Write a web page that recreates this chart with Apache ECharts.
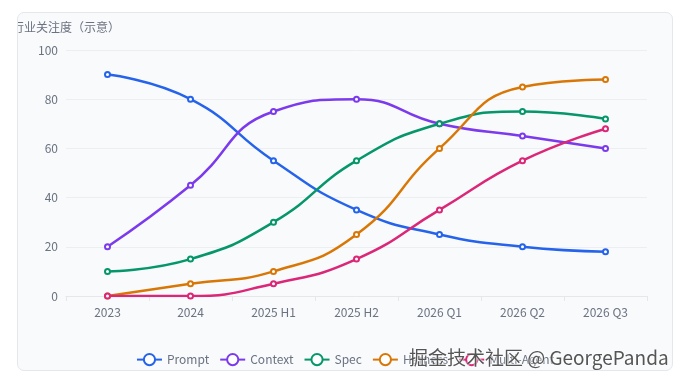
<!DOCTYPE html>
<html>
<head>
<meta charset="utf-8">
<script src="https://cdn.jsdelivr.net/npm/echarts@6/dist/echarts.min.js"></script>
<style>
  html, body { margin: 0; padding: 0; background: #fff; width: 686px; height: 385px; overflow: hidden; }
  .card {
    position: absolute; left: 17px; top: 12px; width: 654px; height: 357px;
    border: 1px solid #e5e7eb; border-radius: 7px; background: #f8fafc; overflow: hidden;
  }
  #chart { width: 654px; height: 357px; }
  .mark {
    position: absolute; left: 409px; top: 343px; font-size: 19px; color: #555;
    font-family: "Noto Sans CJK SC", sans-serif; text-shadow: 0 0 2px #fff, 0 0 2px #fff;
    white-space: nowrap;
  }
</style>
</head>
<body>
<div class="card"><div id="chart"></div></div>
<div class="mark">掘金技术社区 @ GeorgePanda</div>
<script>
const categories = ['2023', '2024', '2025 H1', '2025 H2', '2026 Q1', '2026 Q2', '2026 Q3']
const promptData = [90, 80, 55, 35, 25, 20, 18]
const contextData = [20, 45, 75, 80, 70, 65, 60]
const specData = [10, 15, 30, 55, 70, 75, 72]
const harnessData = [0, 5, 10, 25, 60, 85, 88]
const agentData = [0, 0, 5, 15, 35, 55, 68]

const makeLine = (name, data, color) => ({
    name,
    type: 'line',
    data,
    smooth: true,
    symbol: 'emptyCircle',
    symbolSize: 5,
    itemStyle: { color },
    lineStyle: { color, width: 2.5 }
})

const myChart = echarts.init(document.getElementById('chart'))
myChart.setOption({
    textStyle: { fontFamily: '"Noto Sans CJK SC", "Noto Sans", sans-serif' },
    grid: { left: 48, right: 25, top: 37, bottom: 74, containLabel: false, outerBoundsMode: 'none' },
    legend: {
        top: 335,
        left: 'center',
        itemWidth: 25,
        itemHeight: 14,
        itemGap: 10,
        textStyle: { color: '#6b7280', fontSize: 12 }
    },
    xAxis: {
        type: 'category',
        data: categories,
        axisLine: { lineStyle: { color: '#e5e7eb' } },
        axisTick: { show: true, lineStyle: { color: '#e5e7eb' } },
        axisLabel: { color: '#6b7280', fontSize: 12, margin: 10 }
    },
    yAxis: {
        type: 'value',
        min: 0,
        max: 100,
        interval: 20,
        name: '行业关注度（示意）',
        nameTextStyle: { color: '#6b7280', fontSize: 12, padding: [0, 0, 2, 0] },
        axisLabel: { color: '#6b7280', fontSize: 12 },
        splitLine: { lineStyle: { color: '#eceef2' } }
    },
    series: [
        makeLine('Prompt', promptData, '#2563eb'),
        makeLine('Context', contextData, '#7c3aed'),
        makeLine('Spec', specData, '#059669'),
        makeLine('Harness', harnessData, '#d97706'),
        makeLine('Multi-Agent', agentData, '#db2777')
    ]
})
</script>
</body>
</html>
